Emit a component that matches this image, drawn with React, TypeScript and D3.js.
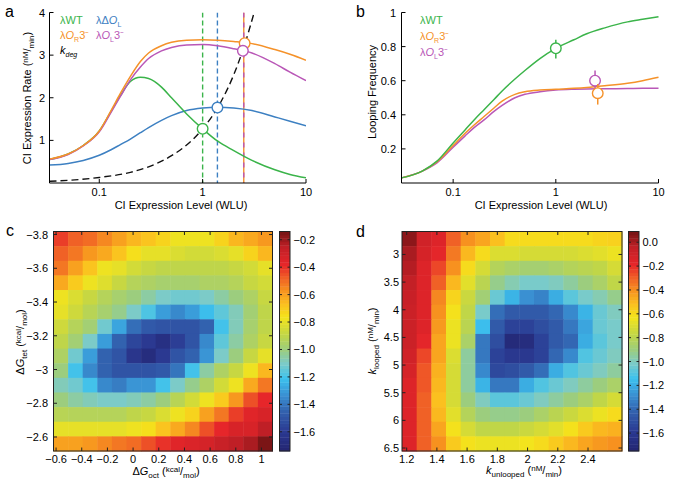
import React from 'react';
import * as d3 from 'd3';

const FONT = '"Liberation Sans", Arial, Helvetica, sans-serif';
const GREEN = '#3bb44a';
const ORANGE = '#f5922a';
const PURPLE = '#b957b7';
const BLUE = '#3d80c2';

// ---------- Panel a data ----------
const X_A = [0.033, 0.05, 0.07, 0.1, 0.13, 0.16, 0.2, 0.25, 0.3, 0.4, 0.5, 0.7, 1, 1.4, 2, 3, 5, 7, 10];
const A_WT = [0.55, 0.68, 0.88, 1.22, 1.68, 2.05, 2.38, 2.48, 2.45, 2.25, 2.0, 1.62, 1.27, 0.98, 0.76, 0.53, 0.31, 0.2, 0.12];
const A_OR3 = [0.56, 0.68, 0.88, 1.22, 1.7, 2.1, 2.5, 2.85, 3.05, 3.22, 3.3, 3.35, 3.36, 3.35, 3.32, 3.27, 3.13, 3.02, 2.88];
const A_OL3 = [0.55, 0.67, 0.87, 1.2, 1.66, 2.03, 2.42, 2.72, 2.92, 3.1, 3.18, 3.24, 3.25, 3.22, 3.15, 3.05, 2.8, 2.6, 2.4];
const A_DOL = [0.42, 0.46, 0.53, 0.65, 0.78, 0.9, 1.03, 1.18, 1.3, 1.47, 1.58, 1.7, 1.76, 1.78, 1.76, 1.7, 1.55, 1.45, 1.34];
const KDEG_X = [0.033, 0.1, 0.2, 0.3, 0.5, 0.7, 1, 1.5, 2, 2.5, 3.15];
const KDEG_Y = [0.04, 0.13, 0.25, 0.38, 0.64, 0.89, 1.27, 1.9, 2.54, 3.18, 4.0];
const A_MARK_X = [1, 1.39, 2.55, 2.45];
const A_MARK_Y = [1.27, 1.77, 3.28, 3.1];
const A_MARK_C = [GREEN, BLUE, ORANGE, PURPLE];
const A_VLINE_X = [1, 1.39, 2.5];
const A_YTICKS = [1, 2, 3, 4];
const LOG_TICKS = [0.1, 1, 10];

// ---------- Panel b data ----------
const X_B = [0.0314, 0.05, 0.07, 0.1, 0.13, 0.16, 0.2, 0.25, 0.3, 0.4, 0.5, 0.7, 1, 1.5, 2, 3, 5, 7, 10];
const B_WT = [0.03, 0.07, 0.13, 0.235, 0.31, 0.37, 0.43, 0.49, 0.54, 0.61, 0.66, 0.73, 0.79, 0.84, 0.875, 0.91, 0.945, 0.96, 0.975];
const B_OR3 = [0.03, 0.07, 0.125, 0.22, 0.29, 0.34, 0.39, 0.44, 0.48, 0.52, 0.535, 0.545, 0.55, 0.555, 0.56, 0.57, 0.585, 0.6, 0.62];
const B_OL3 = [0.03, 0.07, 0.12, 0.21, 0.275, 0.325, 0.37, 0.42, 0.455, 0.5, 0.52, 0.535, 0.545, 0.55, 0.552, 0.553, 0.554, 0.555, 0.555];
const B_PT_X = [1, 2.41, 2.56];
const B_PT_Y = [0.79, 0.6, 0.527];
const B_PT_LO = [0.73, 0.53, 0.46];
const B_PT_HI = [0.84, 0.66, 0.58];
const B_PT_C = [GREEN, PURPLE, ORANGE];
const B_YTICKS = [0.2, 0.4, 0.6, 0.8, 1];

// ---------- Panel c data (rows top->bottom, cols left->right) ----------
const C_GRID = [
  [-0.42, -0.48, -0.5, -0.55, -0.6, -0.65, -0.68, -0.72, -0.78, -0.78, -0.78, -0.72, -0.65, -0.62, -0.58],
  [-0.48, -0.52, -0.58, -0.62, -0.68, -0.75, -0.8, -0.8, -0.83, -0.85, -0.85, -0.83, -0.8, -0.72, -0.65],
  [-0.52, -0.6, -0.68, -0.78, -0.8, -0.85, -0.88, -0.9, -0.9, -0.9, -0.9, -0.9, -0.88, -0.85, -0.8],
  [-0.62, -0.7, -0.78, -0.82, -0.88, -0.93, -0.95, -0.97, -0.97, -0.97, -0.95, -0.95, -0.93, -0.88, -0.85],
  [-0.78, -0.83, -0.88, -0.93, -0.97, -1.0, -1.05, -1.1, -1.12, -1.12, -1.1, -1.05, -1.0, -0.95, -0.88],
  [-0.8, -0.86, -0.92, -0.97, -1.02, -1.1, -1.18, -1.3, -1.35, -1.3, -1.22, -1.15, -1.08, -0.98, -0.9],
  [-0.86, -0.93, -0.98, -1.12, -1.28, -1.42, -1.48, -1.5, -1.5, -1.5, -1.45, -1.2, -1.08, -0.97, -0.9],
  [-0.9, -0.98, -1.1, -1.3, -1.45, -1.55, -1.6, -1.66, -1.58, -1.5, -1.35, -1.15, -1.05, -0.95, -0.88],
  [-0.95, -1.12, -1.3, -1.45, -1.5, -1.62, -1.68, -1.6, -1.5, -1.45, -1.32, -1.1, -1.0, -0.88, -0.8],
  [-1.0, -1.2, -1.35, -1.45, -1.5, -1.5, -1.5, -1.48, -1.4, -1.2, -1.05, -0.95, -0.88, -0.78, -0.65],
  [-1.08, -1.12, -1.2, -1.35, -1.38, -1.32, -1.32, -1.2, -1.1, -1.02, -0.95, -0.85, -0.78, -0.62, -0.52],
  [-1.0, -1.05, -1.08, -1.1, -1.1, -1.08, -1.05, -1.0, -0.92, -0.85, -0.78, -0.7, -0.58, -0.45, -0.38],
  [-0.92, -0.93, -0.93, -0.93, -0.93, -0.9, -0.88, -0.83, -0.78, -0.72, -0.6, -0.52, -0.42, -0.36, -0.33],
  [-0.8, -0.8, -0.8, -0.8, -0.8, -0.78, -0.75, -0.68, -0.62, -0.55, -0.45, -0.38, -0.33, -0.33, -0.25],
  [-0.6, -0.6, -0.58, -0.55, -0.52, -0.5, -0.45, -0.4, -0.36, -0.34, -0.32, -0.28, -0.25, -0.22, -0.15],
];
const C_XTICKS = [-0.6, -0.4, -0.2, 0, 0.2, 0.4, 0.6, 0.8, 1];
const C_YTICKS = [-3.8, -3.6, -3.4, -3.2, -3, -2.8, -2.6];
const C_CBTICKS = [-1.6, -1.4, -1.2, -1.0, -0.8, -0.6, -0.4, -0.2];

// ---------- Panel d data ----------
const D_GRID = [
  [0.05, -0.1, -0.15, -0.3, -0.4, -0.45, -0.52, -0.6, -0.6, -0.6, -0.6, -0.6, -0.6, -0.58, -0.57],
  [0.0, -0.12, -0.18, -0.35, -0.5, -0.6, -0.7, -0.7, -0.72, -0.72, -0.72, -0.72, -0.7, -0.68, -0.65],
  [-0.02, -0.15, -0.25, -0.4, -0.6, -0.72, -0.82, -0.85, -0.87, -0.87, -0.85, -0.82, -0.8, -0.78, -0.72],
  [-0.05, -0.15, -0.3, -0.5, -0.68, -0.8, -0.92, -0.98, -1.02, -1.02, -1.0, -0.95, -0.9, -0.85, -0.78],
  [-0.07, -0.15, -0.38, -0.58, -0.75, -0.88, -1.05, -1.18, -1.28, -1.32, -1.2, -1.08, -1.02, -0.98, -0.92],
  [-0.08, -0.15, -0.4, -0.62, -0.78, -1.02, -1.38, -1.45, -1.45, -1.45, -1.4, -1.3, -1.18, -1.05, -1.0],
  [-0.08, -0.15, -0.42, -0.65, -0.8, -1.15, -1.45, -1.55, -1.55, -1.5, -1.45, -1.35, -1.22, -1.05, -1.02],
  [-0.08, -0.18, -0.45, -0.65, -0.85, -1.35, -1.5, -1.7, -1.68, -1.55, -1.45, -1.4, -1.2, -1.08, -1.02],
  [-0.1, -0.25, -0.45, -0.7, -0.95, -1.35, -1.55, -1.6, -1.6, -1.55, -1.4, -1.3, -1.1, -1.05, -1.0],
  [-0.12, -0.28, -0.48, -0.72, -0.95, -1.3, -1.52, -1.5, -1.45, -1.38, -1.2, -1.1, -1.05, -1.0, -0.95],
  [-0.15, -0.28, -0.5, -0.72, -0.95, -1.18, -1.35, -1.35, -1.2, -1.1, -1.05, -1.0, -0.95, -0.9, -0.85],
  [-0.15, -0.3, -0.52, -0.72, -0.9, -1.0, -1.08, -1.08, -1.05, -1.0, -0.95, -0.9, -0.85, -0.78, -0.72],
  [-0.15, -0.3, -0.5, -0.68, -0.82, -0.9, -0.92, -0.92, -0.9, -0.85, -0.8, -0.75, -0.7, -0.65, -0.6],
  [-0.15, -0.3, -0.45, -0.62, -0.72, -0.78, -0.78, -0.78, -0.75, -0.72, -0.68, -0.62, -0.55, -0.5, -0.48],
  [-0.15, -0.3, -0.4, -0.55, -0.62, -0.65, -0.65, -0.65, -0.63, -0.6, -0.55, -0.5, -0.45, -0.42, -0.4],
];
const D_XTICKS = [1.2, 1.4, 1.6, 1.8, 2, 2.2, 2.4];
const D_YTICKS = [3, 3.5, 4, 4.5, 5, 5.5, 6, 6.5];
const D_CBTICKS = [-1.6, -1.4, -1.2, -1.0, -0.8, -0.6, -0.4, -0.2, 0.0];

// colormap (normalized)
const CM_T = [0, 0.09, 0.18, 0.26, 0.33, 0.40, 0.46, 0.53, 0.61, 0.67, 0.73, 0.79, 0.85, 0.93, 1];
const CM_C = ['#232470', '#2b3a92', '#3261ae', '#3a93d4', '#3cc1ee', '#7ccbc8', '#9bcd80', '#c2d646', '#f4e41c', '#fbbf1f', '#f7941f', '#f05f26', '#e6262a', '#c01f26', '#741414'];
const cmap = d3.scaleLinear<string>().domain(CM_T).range(CM_C).interpolate(d3.interpolateRgb).clamp(true);

const minus = (s: string) => s.replace('-', '\u2212');

type Seg = { t: string; shift?: number; size?: number; italic?: boolean };
function RichText({ segs, x, y, anchor = 'middle', rotate = 0, size = 11, fill = '#000' }: any) {
  let prev = 0;
  return (
    <text transform={`translate(${x},${y}) rotate(${rotate})`} textAnchor={anchor} fontFamily={FONT} fontSize={size} fill={fill}>
      {segs.map((s: Seg, i: number) => {
        const sh = s.shift || 0;
        const dy = sh - prev;
        prev = sh;
        return (
          <tspan key={i} dy={dy} fontSize={s.size || size} fontStyle={s.italic ? 'italic' : 'normal'}>{s.t}</tspan>
        );
      })}
    </text>
  );
}

const unitNM: Seg[] = [{ t: ' (' }, { t: 'nM', shift: -3, size: 8 }, { t: '/', shift: 0 }, { t: 'min', shift: 2.5, size: 8 }, { t: ')', shift: 0 }];
const unitKcal: Seg[] = [{ t: ' (' }, { t: 'kcal', shift: -3, size: 8 }, { t: '/', shift: 0 }, { t: 'mol', shift: 2.5, size: 8 }, { t: ')', shift: 0 }];

function PanelA() {
  const x = d3.scaleLog().domain([0.033, 10]).range([49.5, 306]);
  const y = d3.scaleLinear().domain([0, 4]).range([183, 12.5]);
  const line = d3.line<[number, number]>().x(d => x(d[0])).y(d => y(d[1])).curve(d3.curveMonotoneX);
  const mk = (ys: number[]) => line(X_A.map((xv, i) => [xv, ys[i]]));
  const kdeg = line(KDEG_X.map((xv, i) => [xv, KDEG_Y[i]]));
  const vCols = [GREEN, BLUE, ORANGE];
  return (
    <g>
      <defs>
        <clipPath id="clipA"><rect x={49.5} y={12.5} width={256.5} height={170.5} /></clipPath>
      </defs>
      <g clipPath="url(#clipA)">
        {A_VLINE_X.map((v, i) => (
          <line key={i} x1={x(v)} x2={x(v)} y1={y(4)} y2={y(0)} stroke={vCols[i]} strokeWidth={1.4}
            strokeDasharray={i < 2 ? '5,3' : undefined} />
        ))}
        <line x1={x(A_VLINE_X[2])} x2={x(A_VLINE_X[2])} y1={y(4)} y2={y(0)} stroke={PURPLE} strokeWidth={1.4} strokeDasharray="5,5" />
        <path d={kdeg || ''} fill="none" stroke="#111" strokeWidth={1.4} strokeDasharray="7,4" />
        <path d={mk(A_DOL) || ''} fill="none" stroke={BLUE} strokeWidth={1.5} />
        <path d={mk(A_WT) || ''} fill="none" stroke={GREEN} strokeWidth={1.5} />
        <path d={mk(A_OL3) || ''} fill="none" stroke={PURPLE} strokeWidth={1.5} />
        <path d={mk(A_OR3) || ''} fill="none" stroke={ORANGE} strokeWidth={1.5} />
      </g>
      {A_MARK_X.map((v, i) => (
        <circle key={i} cx={x(v)} cy={y(A_MARK_Y[i])} r={5.3} fill="#fff" stroke={A_MARK_C[i]} strokeWidth={1.4} />
      ))}
      <line x1={49.5} x2={306} y1={183} y2={183} stroke="#000" strokeWidth={1} />
      <line x1={49.5} x2={49.5} y1={12.5} y2={183} stroke="#000" strokeWidth={1} />
      {LOG_TICKS.map(t => (
        <g key={t}>
          <line x1={x(t)} x2={x(t)} y1={183} y2={179} stroke="#000" />
          <text x={x(t)} y={196} textAnchor="middle" fontFamily={FONT} fontSize={11}>{String(t)}</text>
        </g>
      ))}
      {A_YTICKS.map(t => (
        <g key={t}>
          <line x1={49.5} x2={53.5} y1={y(t)} y2={y(t)} stroke="#000" />
          <text x={45} y={y(t) + 4} textAnchor="end" fontFamily={FONT} fontSize={11}>{String(t)}</text>
        </g>
      ))}
      <text x={181} y={208.5} textAnchor="middle" fontFamily={FONT} fontSize={11}>CI Expression Level (WLU)</text>
      <RichText x={31} y={98} rotate={-90} segs={[{ t: 'CI Expression Rate' }, ...unitNM]} />
      <RichText x={60} y={24} anchor="start" fill={GREEN} segs={[{ t: 'λWT' }]} />
      <RichText x={96} y={24} anchor="start" fill={BLUE} segs={[{ t: 'λΔ' }, { t: 'O', italic: true }, { t: 'L', shift: 2.5, size: 7 }]} />
      <RichText x={60} y={39} anchor="start" fill={ORANGE} segs={[{ t: 'λ' }, { t: 'O', italic: true }, { t: 'R', shift: 2.5, size: 7 }, { t: '3\u207B', shift: 0 }]} />
      <RichText x={96} y={39} anchor="start" fill={PURPLE} segs={[{ t: 'λ' }, { t: 'O', italic: true }, { t: 'L', shift: 2.5, size: 7 }, { t: '3\u207B', shift: 0 }]} />
      <RichText x={60} y={54} anchor="start" fill="#000" segs={[{ t: 'k', italic: true }, { t: 'deg', shift: 2.5, size: 7, italic: true }]} />
      <text x={5} y={17} fontFamily={FONT} fontSize={16}>a</text>
    </g>
  );
}

function PanelB() {
  const x = d3.scaleLog().domain([0.0314, 10]).range([401.5, 658.5]);
  const y = d3.scaleLinear().domain([0, 1]).range([183, 12.5]);
  const line = d3.line<[number, number]>().x(d => x(d[0])).y(d => y(d[1])).curve(d3.curveMonotoneX);
  const mk = (ys: number[]) => line(X_B.map((xv, i) => [xv, ys[i]]));
  return (
    <g>
      <path d={mk(B_OL3) || ''} fill="none" stroke={PURPLE} strokeWidth={1.5} />
      <path d={mk(B_OR3) || ''} fill="none" stroke={ORANGE} strokeWidth={1.5} />
      <path d={mk(B_WT) || ''} fill="none" stroke={GREEN} strokeWidth={1.5} />
      {B_PT_X.map((v, i) => (
        <g key={i}>
          <line x1={x(v)} x2={x(v)} y1={y(B_PT_LO[i])} y2={y(B_PT_HI[i])} stroke={B_PT_C[i]} strokeWidth={1.5} />
          <circle cx={x(v)} cy={y(B_PT_Y[i])} r={5.3} fill="#fff" stroke={B_PT_C[i]} strokeWidth={1.4} />
        </g>
      ))}
      <line x1={401.5} x2={658.5} y1={183} y2={183} stroke="#000" />
      <line x1={401.5} x2={401.5} y1={12.5} y2={183} stroke="#000" />
      {LOG_TICKS.map(t => (
        <g key={t}>
          <line x1={x(t)} x2={x(t)} y1={183} y2={179} stroke="#000" />
          <text x={x(t)} y={196} textAnchor="middle" fontFamily={FONT} fontSize={11}>{String(t)}</text>
        </g>
      ))}
      {B_YTICKS.map(t => (
        <g key={t}>
          <line x1={401.5} x2={405.5} y1={y(t)} y2={y(t)} stroke="#000" />
          <text x={396} y={y(t) + 4} textAnchor="end" fontFamily={FONT} fontSize={11}>{String(t)}</text>
        </g>
      ))}
      <text x={541} y={208.5} textAnchor="middle" fontFamily={FONT} fontSize={11}>CI Expression Level (WLU)</text>
      <text transform="translate(376,92) rotate(-90)" textAnchor="middle" fontFamily={FONT} fontSize={11}>Looping Frequency</text>
      <RichText x={420} y={24} anchor="start" fill={GREEN} segs={[{ t: 'λWT' }]} />
      <RichText x={420} y={40} anchor="start" fill={ORANGE} segs={[{ t: 'λ' }, { t: 'O', italic: true }, { t: 'R', shift: 2.5, size: 7 }, { t: '3\u207B', shift: 0 }]} />
      <RichText x={420} y={56} anchor="start" fill={PURPLE} segs={[{ t: 'λ' }, { t: 'O', italic: true }, { t: 'L', shift: 2.5, size: 7 }, { t: '3\u207B', shift: 0 }]} />
      <text x={356} y={17} fontFamily={FONT} fontSize={16}>b</text>
    </g>
  );
}

function Heatmap({ grid, gx0, gx1, gy0, gy1, xDomain, yDomain, xTicks, yTicks, cbX, cbDomain, cbTicks, cbFmt, yLabelRight }: any) {
  const nR = grid.length, nC = grid[0].length;
  const colB = d3.scaleBand<number>().domain(d3.range(nC)).range([gx0, gx1]);
  const rowB = d3.scaleBand<number>().domain(d3.range(nR)).range([gy0, gy1]);
  const xs = d3.scaleLinear().domain(xDomain).range([gx0, gx1]);
  const ys = d3.scaleLinear().domain(yDomain).range([gy0, gy1]);
  const norm = d3.scaleLinear().domain(cbDomain).range([0, 1]);
  const cbY = d3.scaleLinear().domain(cbDomain).range([gy1, gy0]);
  const steps = d3.range(64);
  const stepV = (cbDomain[1] - cbDomain[0]) / 64;
  const fmtX = (v: number) => minus(String(v));
  return (
    <g>
      {grid.map((row: number[], r: number) => row.map((v: number, c: number) => (
        <rect key={`${r}-${c}`} x={colB(c)} y={rowB(r)} width={colB.bandwidth() + 0.5} height={rowB.bandwidth() + 0.5} fill={cmap(norm(v))} />
      )))}
      <rect x={gx0} y={gy0} width={gx1 - gx0} height={gy1 - gy0} fill="none" stroke="#222" strokeWidth={1} />
      {xTicks.map((t: number) => (
        <g key={t}>
          <line x1={xs(t)} x2={xs(t)} y1={gy1} y2={gy1 - 3.5} stroke="#222" />
          <line x1={xs(t)} x2={xs(t)} y1={gy0} y2={gy0 + 3.5} stroke="#222" />
          <text x={xs(t)} y={gy1 + 12} textAnchor="middle" fontFamily={FONT} fontSize={11}>{fmtX(t)}</text>
        </g>
      ))}
      {yTicks.map((t: number) => (
        <g key={t}>
          <line x1={gx0} x2={gx0 + 3.5} y1={ys(t)} y2={ys(t)} stroke="#222" />
          <line x1={gx1} x2={gx1 - 3.5} y1={ys(t)} y2={ys(t)} stroke="#222" />
          <text x={yLabelRight} y={ys(t) + 4} textAnchor="end" fontFamily={FONT} fontSize={11}>{fmtX(t)}</text>
        </g>
      ))}
      {steps.map(i => {
        const v0 = cbDomain[0] + i * stepV;
        return <rect key={i} x={cbX} y={cbY(v0 + stepV)} width={10.5} height={cbY(v0) - cbY(v0 + stepV) + 0.4} fill={cmap(norm(v0 + stepV / 2))} />;
      })}
      <rect x={cbX} y={gy0} width={10.5} height={gy1 - gy0} fill="none" stroke="#222" strokeWidth={1} />
      {cbTicks.map((t: number) => (
        <g key={t}>
          <line x1={cbX} x2={cbX + 2.5} y1={cbY(t)} y2={cbY(t)} stroke="#222" />
          <line x1={cbX + 10.5} x2={cbX + 8} y1={cbY(t)} y2={cbY(t)} stroke="#222" />
          <text x={cbX + 14} y={cbY(t) + 4} fontFamily={FONT} fontSize={11}>{minus(cbFmt(t))}</text>
        </g>
      ))}
    </g>
  );
}

export default function App() {
  const f1 = d3.format('.1f');
  return (
    <svg width={683} height={488} style={{ position: 'absolute', left: 0, top: 0, background: '#fff' }}>
      <rect x={0} y={0} width={683} height={488} fill="#fff" />
      <PanelA />
      <PanelB />
      <Heatmap grid={C_GRID} gx0={53.5} gx1={272.5} gy0={231.5} gy1={451}
        xDomain={[-0.62, 1.086]} yDomain={[-3.818, -2.517]} xTicks={C_XTICKS} yTicks={C_YTICKS}
        cbX={279.5} cbDomain={[-1.74, -0.14]} cbTicks={C_CBTICKS} cbFmt={f1} yLabelRight={48} />
      <Heatmap grid={D_GRID} gx0={402} gx1={622} gy0={231.5} gy1={451}
        xDomain={[1.169, 2.625]} yDomain={[2.585, 6.554]} xTicks={D_XTICKS} yTicks={D_YTICKS}
        cbX={628.5} cbDomain={[-1.75, 0.09]} cbTicks={D_CBTICKS} cbFmt={f1} yLabelRight={399} />
      <RichText x={166} y={475} segs={[{ t: 'Δ' }, { t: 'G', italic: true }, { t: 'oct', shift: 3, size: 8 }, ...unitKcal]} />
      <RichText x={24} y={342} rotate={-90} segs={[{ t: 'Δ' }, { t: 'G', italic: true }, { t: 'tet', shift: 3, size: 8 }, ...unitKcal]} />
      <RichText x={524} y={474} segs={[{ t: 'k', italic: true }, { t: 'unlooped', shift: 3, size: 8 }, ...unitNM]} />
      <RichText x={376} y={341} rotate={-90} segs={[{ t: 'k', italic: true }, { t: 'looped', shift: 3, size: 8 }, ...unitNM]} />
      <text x={6} y={236} fontFamily={FONT} fontSize={16}>c</text>
      <text x={356} y={237} fontFamily={FONT} fontSize={16}>d</text>
    </svg>
  );
}
